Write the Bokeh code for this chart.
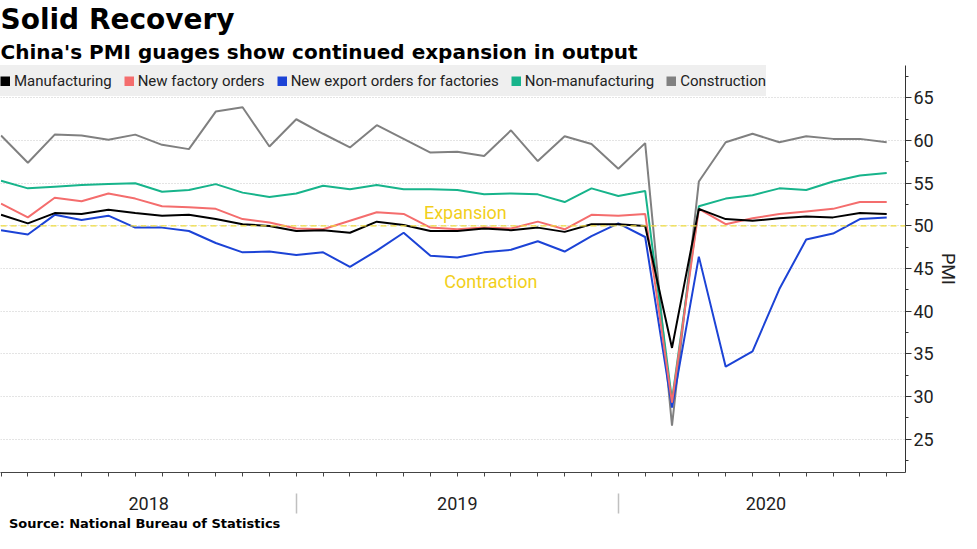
from bokeh.plotting import figure
from bokeh.models import (Range1d, LinearAxis, FixedTicker, Span, Label, Legend,
                          LegendItem, Title, ColumnDataSource)
from bokeh.embed import file_html
from bokeh.resources import INLINE

# ---------------- data (monthly, Jan 2018 - Oct 2020) ----------------
months = ["2018-01", "2018-02", "2018-03", "2018-04", "2018-05", "2018-06",
          "2018-07", "2018-08", "2018-09", "2018-10", "2018-11", "2018-12",
          "2019-01", "2019-02", "2019-03", "2019-04", "2019-05", "2019-06",
          "2019-07", "2019-08", "2019-09", "2019-10", "2019-11", "2019-12",
          "2020-01", "2020-02", "2020-03", "2020-04", "2020-05", "2020-06",
          "2020-07", "2020-08", "2020-09", "2020-10"]

manufacturing = [51.3, 50.3, 51.5, 51.4, 51.9, 51.5, 51.2, 51.3, 50.8, 50.2, 50.0, 49.4,
                 49.5, 49.2, 50.5, 50.1, 49.4, 49.4, 49.7, 49.5, 49.8, 49.3, 50.2, 50.2,
                 50.0, 35.7, 52.0, 50.8, 50.6, 50.9, 51.1, 51.0, 51.5, 51.4]
new_factory_orders = [52.6, 51.0, 53.3, 52.9, 53.8, 53.2, 52.3, 52.2, 52.0, 50.8, 50.4, 49.7,
                      49.6, 50.6, 51.6, 51.4, 49.8, 49.6, 49.8, 49.7, 50.5, 49.6, 51.3, 51.2,
                      51.4, 29.3, 52.0, 50.2, 50.9, 51.4, 51.7, 52.0, 52.8, 52.8]
new_export_orders = [49.5, 49.0, 51.3, 50.7, 51.2, 49.8, 49.8, 49.4, 48.0, 46.9, 47.0, 46.6,
                     46.9, 45.2, 47.1, 49.2, 46.5, 46.3, 46.9, 47.2, 48.2, 47.0, 48.8, 50.3,
                     48.7, 28.7, 46.4, 33.5, 35.3, 42.6, 48.4, 49.1, 50.8, 51.0]
non_manufacturing = [55.3, 54.4, 54.6, 54.8, 54.9, 55.0, 54.0, 54.2, 54.9, 53.9, 53.4, 53.8,
                     54.7, 54.3, 54.8, 54.3, 54.3, 54.2, 53.7, 53.8, 53.7, 52.8, 54.4, 53.5,
                     54.1, 29.6, 52.3, 53.2, 53.6, 54.4, 54.2, 55.2, 55.9, 56.2]
construction = [60.6, 57.4, 60.7, 60.6, 60.1, 60.7, 59.5, 59.0, 63.4, 63.9, 59.3, 62.5,
                60.8, 59.2, 61.8, 60.2, 58.6, 58.7, 58.2, 61.2, 57.6, 60.5, 59.6, 56.7,
                59.7, 26.6, 55.2, 59.8, 60.8, 59.8, 60.5, 60.2, 60.2, 59.8]

series_names = ["Manufacturing", "New factory orders", "New export orders for factories",
                "Non-manufacturing", "Construction"]
series_colors = ["#000000", "#f46d6d", "#1c43d6", "#17b48b", "#808080"]

years = ["2018", "2019", "2020"]
year_centers = [5.5, 17, 28.5]
year_bounds = [11, 23]
y_ticks = [25, 30, 35, 40, 45, 50, 55, 60, 65]
y_minor = [22.5, 27.5, 32.5, 37.5, 42.5, 47.5, 52.5, 57.5, 62.5, 67.5]
threshold = 50
source_text = "Source: National Bureau of Statistics"
source_anchor = 5.35   # axis position at which the (centred) source note sits

x = list(range(len(months)))
src = ColumnDataSource(dict(x=x, m=manufacturing, n=new_factory_orders,
                            e=new_export_orders, nm=non_manufacturing, c=construction))

FONT = "Roboto"

p = figure(width=961, height=533, x_range=Range1d(-0.02, 33.7), y_range=Range1d(21.1, 68.8),
           y_axis_location="right", toolbar_location=None, output_backend="svg",
           min_border_left=0, min_border_right=0, min_border_top=0, min_border_bottom=0,
           title=None)
p.outline_line_color = None
p.background_fill_color = "white"
p.border_fill_color = "white"

# titles
sub = Title(text="China's PMI guages show continued expansion in output", align="left",
            text_font="DejaVu Sans", text_font_size="20px", text_font_style="bold",
            text_color="#000000", offset=0, standoff=4)
main = Title(text="Solid Recovery", align="left", text_font="DejaVu Sans",
             text_font_size="28px", text_font_style="bold", text_color="#000000",
             offset=0, standoff=0)
p.add_layout(sub, "above")
p.add_layout(main, "above")

# y axis (right)
yt = FixedTicker(ticks=y_ticks, minor_ticks=y_minor)
ya = p.yaxis[0]
ya.ticker = yt
ya.axis_line_color = "#333333"
ya.major_tick_line_color = "#333333"
ya.minor_tick_line_color = "#333333"
ya.major_tick_in = 0
ya.major_tick_out = 6
ya.minor_tick_in = 0
ya.minor_tick_out = 3
ya.major_label_text_font = FONT
ya.major_label_text_font_size = "18px"
ya.major_label_text_color = "#222222"
ya.major_label_standoff = 2
ya.axis_label = "PMI"
ya.axis_label_text_font = FONT
ya.axis_label_text_font_size = "18px"
ya.axis_label_text_font_style = "normal"
ya.axis_label_text_color = "#222222"
ya.axis_label_standoff = 1

p.ygrid.ticker = yt
p.ygrid.grid_line_color = "#c8c8c8"
p.ygrid.grid_line_dash = "1 2"
p.xgrid.visible = False

# x axis: monthly ticks (as unlabeled minor ticks)
xa = p.xaxis[0]
xa.ticker = FixedTicker(ticks=[], minor_ticks=x)
xa.axis_line_color = "#444444"
xa.major_tick_line_color = None
xa.major_tick_in = 0
xa.major_tick_out = 4
xa.minor_tick_line_color = "#444444"
xa.minor_tick_in = 0
xa.minor_tick_out = 4
xa.major_label_standoff = 0

# x axis: years with separators
xa2 = LinearAxis(ticker=FixedTicker(ticks=year_centers, minor_ticks=year_bounds),
                 major_label_overrides={k: v for k, v in zip(year_centers, years)},
                 axis_line_color=None, major_tick_line_color=None,
                 major_tick_in=0, major_tick_out=0,
                 minor_tick_in=-17, minor_tick_out=37, minor_tick_line_color="#c0c0c0",
                 minor_tick_line_width=1.5,
                 major_label_standoff=-17, major_label_text_font=FONT,
                 major_label_text_font_size="18px", major_label_text_color="#222222")
p.add_layout(xa2, "below")

# source note as a tick-less axis label row
xa3 = LinearAxis(ticker=FixedTicker(ticks=[source_anchor]),
                 major_label_overrides={source_anchor: source_text},
                 axis_line_color=None, major_tick_line_color=None, minor_tick_line_color=None,
                 major_tick_in=0, major_tick_out=0, minor_tick_in=0, minor_tick_out=0,
                 major_label_standoff=3, major_label_text_font="DejaVu Sans",
                 major_label_text_font_size="13px", major_label_text_font_style="bold",
                 major_label_text_color="#000000")
p.add_layout(xa3, "below")

# threshold line + annotations
p.add_layout(Span(location=threshold, dimension="width", line_color="#efdc3c",
                  line_dash="6 4", line_width=1.2))
p.add_layout(Label(x=17.3, y=51.6, text="Expansion", text_align="center",
                   text_baseline="middle", text_color="#f2cf1a", text_font=FONT,
                   text_font_size="18px"))
p.add_layout(Label(x=18.25, y=43.5, text="Contraction", text_align="center",
                   text_baseline="middle", text_color="#f2cf1a", text_font=FONT,
                   text_font_size="18px"))

# lines (drawn so that manufacturing is on top)
cols = ["m", "n", "e", "nm", "c"]
for col, colr in reversed(list(zip(cols, series_colors))):
    p.line("x", col, source=src, line_color=colr, line_width=2)

# legend with square swatches (hidden thick-line renderers give square glyphs)
items = []
for name, col, colr in zip(series_names, cols, series_colors):
    r = p.line("x", col, source=src, line_color=colr, line_width=10, line_cap="butt",
               visible=False)
    items.append(LegendItem(label=name, renderers=[r]))
legend = Legend(items=items, location="top_left", orientation="horizontal",
                background_fill_color="#efefef", background_fill_alpha=1,
                border_line_color=None, margin=0, padding=0, spacing=12,
                glyph_width=10, glyph_height=10, label_standoff=4,
                label_text_font=FONT, label_text_font_size="15px", label_height=31,
                label_text_color="#222222", inactive_fill_alpha=0,
                click_policy="none")
p.add_layout(legend)

open("out.html", "w").write(file_html(p, INLINE))
